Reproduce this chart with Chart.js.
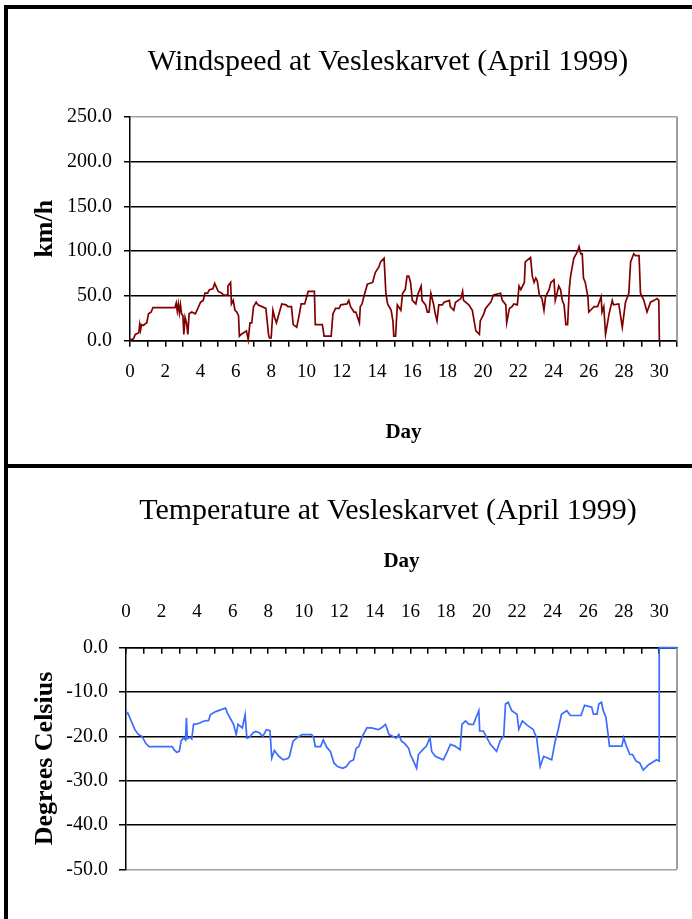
<!DOCTYPE html>
<html>
<head>
<meta charset="utf-8">
<script src="https://cdn.jsdelivr.net/npm/chart.js@4.4.0/dist/chart.umd.min.js"></script>
<style>
body { margin: 0; background: #fff; }
#hoja { position: relative; width: 692px; height: 919px; overflow: hidden; background: #fff; }
canvas { position: absolute; left: 0; }
.linea { position: absolute; background: #000; }
</style>
</head>
<body>
<div id="hoja">
  <canvas id="graficaViento" width="692" height="465" style="top:0"></canvas>
  <canvas id="graficaTemperatura" width="692" height="451" style="top:468px"></canvas>
  <div class="linea" style="left:4px;top:5px;width:4px;height:914px"></div>
  <div class="linea" style="left:4px;top:5px;width:688px;height:4px"></div>
  <div class="linea" style="left:4px;top:464px;width:688px;height:4px"></div>
</div>
<script>
// ---- datos ----
const tituloViento = 'Windspeed at Vesleskarvet (April 1999)';
const tituloTemperatura = 'Temperature at Vesleskarvet (April 1999)';

const diasViento = [0, 0.2, 0.3, 0.5, 0.55, 0.6, 0.65, 0.75, 0.95, 1.05, 1.2, 1.3, 2.55, 2.62, 2.68, 2.74, 2.8, 2.86, 2.92,
  3.0, 3.05, 3.12, 3.2, 3.28, 3.35, 3.5, 3.7, 3.8, 4.0, 4.15, 4.25, 4.4, 4.5, 4.7, 4.8, 5.0, 5.2, 5.3, 5.5, 5.55, 5.7, 5.75,
  5.85, 5.95, 6.05, 6.15, 6.2, 6.3, 6.6, 6.7, 6.8, 6.9, 7.0, 7.15, 7.25, 7.7, 7.85, 7.9, 8.0, 8.1, 8.2, 8.3, 8.5, 8.6, 8.85,
  8.95, 9.15, 9.25, 9.45, 9.6, 9.7, 9.9, 10.1, 10.45, 10.5, 10.9, 11.0, 11.4, 11.5, 11.55, 11.65, 11.85, 11.95, 12.3, 12.4,
  12.5, 12.7, 12.8, 13.0, 13.05, 13.15, 13.25, 13.45, 13.75, 13.9, 14.1, 14.2, 14.4, 14.5, 14.6, 14.8, 14.9, 14.95, 15.05,
  15.15, 15.35, 15.45, 15.6, 15.7, 15.8, 15.9, 16.0, 16.2, 16.3, 16.5, 16.55, 16.75, 16.85, 16.95, 17.05, 17.2, 17.3, 17.4,
  17.5, 17.7, 17.8, 18.1, 18.15, 18.35, 18.45, 18.75, 18.85, 18.9, 19.2, 19.4, 19.6, 19.8, 19.85, 20.05, 20.15, 20.45, 20.6,
  21.0, 21.1, 21.3, 21.35, 21.5, 21.65, 21.75, 21.95, 22.05, 22.15, 22.35, 22.4, 22.7, 22.8, 22.9, 23.0, 23.08, 23.2, 23.35,
  23.46, 23.55, 23.75, 23.85, 24.03, 24.1, 24.3, 24.4, 24.5, 24.6, 24.7, 24.8, 24.9, 24.97, 25.15, 25.35, 25.45, 25.55, 25.63,
  25.7, 25.8, 25.95, 26.0, 26.1, 26.3, 26.5, 26.7, 26.75, 26.85, 26.95, 27.15, 27.33, 27.4, 27.7, 27.9, 28.08, 28.27, 28.37,
  28.55, 28.65, 28.85, 28.93, 29.12, 29.3, 29.5, 29.7, 29.87, 29.97, 30.0];
const velocidadViento = [1, 2, 7, 9, 18, 12, 18, 17, 20, 30, 32, 37, 37, 42, 33, 41, 31, 40, 30,
  28, 7, 26, 20, 7, 30, 32, 30, 34, 43, 45, 53, 53, 57, 58, 64, 55, 53, 51, 51, 61, 65, 41,
  45, 34, 32, 28, 5, 7, 11, 1, 20, 20, 38, 43, 40, 36, 7, 3, 3, 34, 26, 20, 34, 41, 40,
  38, 38, 18, 15, 30, 41, 41, 55, 55, 18, 18, 5, 5, 30, 32, 36, 36, 40, 41, 45,
  38, 32, 32, 20, 38, 41, 49, 63, 65, 76, 82, 88, 92, 53, 41, 34, 22, 5, 5,
  40, 34, 53, 57, 72, 72, 65, 45, 41, 51, 61, 45, 40, 32, 32, 53, 41, 30, 22,
  40, 40, 43, 45, 38, 34, 43, 47, 55, 45, 40, 34, 11, 7, 22, 30, 36, 43, 51,
  53, 45, 40, 20, 36, 38, 41, 40, 61, 57, 65, 88, 93, 72, 65, 70, 67, 51, 47,
  34, 49, 57, 65, 68, 45, 61, 57, 45, 40, 18, 18, 59, 72, 92, 99, 105, 97, 97,
  70, 65, 49, 32, 34, 38, 38, 49, 32, 38, 7, 30, 45, 40, 41, 15, 43, 53, 88,
  97, 95, 95, 53, 45, 32, 43, 45, 47, 45, 0];

const diasTemperatura = [0, 0.1, 0.3, 0.5, 0.7, 0.9, 1.1, 1.3, 2.6, 2.7, 2.85, 3.0, 3.1, 3.25, 3.35, 3.4, 3.45, 3.6, 3.7, 3.8,
  4.0, 4.15, 4.35, 4.65, 4.75, 5.0, 5.2, 5.6, 5.7, 5.85, 6.05, 6.2, 6.3, 6.55, 6.7, 6.8, 6.95, 7.15, 7.3, 7.5, 7.7, 7.9, 8.1,
  8.2, 8.35, 8.6, 8.85, 9.1, 9.2, 9.4, 9.6, 9.9, 10.45, 10.55, 10.65, 10.95, 11.1, 11.3, 11.5, 11.7, 11.9, 12.2, 12.4, 12.6,
  12.8, 12.95, 13.1, 13.3, 13.55, 13.8, 14.2, 14.4, 14.6, 14.8, 15.0, 15.2, 15.35, 15.5, 15.65, 15.8, 15.9, 16.0, 16.2, 16.35,
  16.45, 16.7, 16.9, 17.1, 17.2, 17.4, 17.85, 18.05, 18.25, 18.5, 18.8, 18.9, 19.1, 19.3, 19.55, 19.7, 19.85, 19.9, 20.1,
  20.3, 20.5, 20.85, 21.05, 21.25, 21.35, 21.5, 21.7, 22.0, 22.1, 22.3, 22.6, 22.9, 23.1, 23.3, 23.5, 23.95, 24.15, 24.3,
  24.5, 24.8, 25.0, 25.6, 25.8, 26.2, 26.3, 26.5, 26.6, 26.75, 26.85, 27.0, 27.1, 27.2, 27.9, 28.0, 28.15, 28.35, 28.5, 28.7,
  28.9, 29.1, 29.4, 29.85, 29.99, 30.0, 31.0];
const gradosTemperatura = [-15.1, -14.7, -16.6, -18.5, -19.6, -20.0, -21.5, -22.3, -22.3, -23.0, -23.6, -23.4, -21.0, -20.3, -20.8, -15.8, -20.5, -20.2, -20.6, -17.3,
  -17.2, -17.0, -16.6, -16.4, -15.1, -14.5, -14.2, -13.6, -14.7, -15.8, -17.3, -19.6, -17.3, -18.1, -15.1, -20.4, -20.2, -19.2, -18.9, -19.2, -20.0, -18.5, -18.7,
  -24.9, -23.2, -24.5, -25.3, -25.0, -24.5, -21.1, -20.4, -19.6, -19.6, -20.2, -22.3, -22.3, -20.8, -22.5, -23.4, -26.0, -26.8, -27.2, -26.8, -25.7,
  -25.3, -22.7, -22.3, -20.0, -18.1, -18.1, -18.5, -18.0, -17.3, -19.6, -20.0, -20.4, -19.6, -21.1, -21.5, -22.2, -22.7, -24.1, -25.8, -27.2,
  -24.1, -23.0, -22.2, -20.3, -23.4, -24.5, -25.3, -23.7, -21.8, -22.2, -23.0, -17.3, -16.5, -17.3, -17.3, -15.7, -14.2, -18.8, -18.8,
  -20.3, -21.8, -23.4, -21.0, -19.9, -12.7, -12.3, -14.2, -15.0, -18.4, -16.5, -17.6, -18.4, -20.3, -26.8, -24.5, -25.3, -21.0, -18.8,
  -15.0, -14.2, -15.3, -15.3, -13.0, -13.4, -15.0, -15.0, -12.7, -12.3, -14.2, -15.7, -18.8, -22.2, -22.2, -20.3, -22.2, -24.1, -24.1, -25.6,
  -26.0, -27.6, -26.4, -25.3, -25.6, 0, 0];

const fuente = 'Liberation Serif';

// borde gris a la derecha del area de datos
const marcoGris = {
  id: 'marcoGris',
  beforeDatasetsDraw(chart) {
    const { ctx, chartArea } = chart;
    ctx.save();
    ctx.strokeStyle = '#a0a0a0';
    ctx.lineWidth = 2;
    ctx.beginPath();
    ctx.moveTo(chartArea.right, chartArea.top);
    ctx.lineTo(chartArea.right, chartArea.bottom);
    ctx.stroke();
    ctx.restore();
  }
};

// el eje y ocupa desde el borde izquierdo (para que no se recorten sus etiquetas)
const ejeDesdeBorde = {
  id: 'ejeDesdeBorde',
  afterLayout(chart) {
    chart.scales.y.left = 0;
  }
};

function puntos(dias, valores) {
  return dias.map((d, i) => ({ x: d, y: valores[i] }));
}

function etiquetaDia(valor) {
  return valor % 2 === 0 && valor <= 30 ? String(valor) : '';
}

// alto fijo del eje x, sin relleno lateral por las etiquetas
function fijarAlto(alto) {
  return (scale) => {
    scale.height = alto;
    scale.paddingLeft = 0;
    scale.paddingRight = 0;
  };
}

function graficaViento() {
  const ctx = document.getElementById('graficaViento').getContext('2d');
  new Chart(ctx, {
    type: 'line',
    data: {
      datasets: [{
        data: puntos(diasViento, velocidadViento),
        borderColor: '#800000',
        borderWidth: 1.7,
        pointRadius: 0,
        tension: 0,
        clip: 4
      }]
    },
    plugins: [marcoGris, ejeDesdeBorde],
    options: {
      responsive: false,
      animation: false,
      devicePixelRatio: 1,
      layout: { padding: { left: 99, right: 15, top: 0, bottom: 0 } },
      plugins: {
        legend: { display: false },
        tooltip: { enabled: false },
        title: {
          display: true,
          text: tituloViento,
          color: '#000',
          font: { family: fuente, size: 30, weight: 'normal' },
          padding: { top: 44, bottom: 36.7 }
        }
      },
      scales: {
        x: {
          type: 'linear',
          min: 0,
          max: 31,
          afterFit: fijarAlto(124.3),
          ticks: {
            stepSize: 1,
            autoSkip: false,
            maxRotation: 0,
            padding: 14,
            color: '#000',
            font: { family: fuente, size: 19 },
            callback: etiquetaDia
          },
          grid: { color: 'rgba(0,0,0,0)', tickColor: '#000', tickLength: 6, lineWidth: 1.5 },
          border: { color: '#000', width: 1.5 },
          title: {
            display: true,
            text: 'Day',
            color: '#000',
            font: { family: fuente, size: 21, weight: 'bold' },
            padding: { top: 0, bottom: 20 }
          }
        },
        y: {
          min: 0,
          max: 250,
          afterFit: (scale) => { scale.width = 31; },
          ticks: {
            stepSize: 50,
            padding: 12,
            color: '#000',
            font: { family: fuente, size: 20 },
            callback: (v) => v.toFixed(1)
          },
          grid: {
            color: (c) => c.tick && c.tick.value === 250 ? '#a0a0a0' : '#000',
            tickColor: '#000',
            tickLength: 6,
            lineWidth: 1.5
          },
          border: { color: '#000', width: 1.5 },
          title: {
            display: true,
            text: 'km/h',
            color: '#000',
            font: { family: fuente, size: 26, weight: 'bold' },
            padding: { top: 29.4, bottom: 0 }
          }
        }
      }
    }
  });
}

function graficaTemperatura() {
  const ctx = document.getElementById('graficaTemperatura').getContext('2d');
  new Chart(ctx, {
    type: 'line',
    data: {
      datasets: [{
        data: puntos(diasTemperatura, gradosTemperatura),
        borderColor: '#3b6cff',
        borderWidth: 1.7,
        pointRadius: 0,
        tension: 0,
        clip: 4
      }]
    },
    plugins: [marcoGris, ejeDesdeBorde],
    options: {
      responsive: false,
      animation: false,
      devicePixelRatio: 1,
      layout: { padding: { left: 99, right: 15, top: 0, bottom: 49.7 } },
      plugins: {
        legend: { display: false },
        tooltip: { enabled: false },
        title: {
          display: true,
          text: tituloTemperatura,
          color: '#000',
          font: { family: fuente, size: 30, weight: 'normal' },
          padding: { top: 25, bottom: 8 }
        }
      },
      scales: {
        x: {
          type: 'linear',
          position: 'top',
          min: 0,
          max: 31,
          afterFit: fijarAlto(110.7),
          ticks: {
            stepSize: 1,
            autoSkip: false,
            maxRotation: 0,
            padding: 30,
            color: '#000',
            font: { family: fuente, size: 19 },
            callback: etiquetaDia
          },
          // ticks hacia adentro
          grid: { color: 'rgba(0,0,0,0)', tickColor: '#000', tickLength: -6, lineWidth: 1.5 },
          border: { color: '#000', width: 1.5 },
          title: {
            display: true,
            text: 'Day',
            color: '#000',
            font: { family: fuente, size: 21, weight: 'bold' },
            padding: { top: 12, bottom: 0 }
          }
        },
        y: {
          min: -50,
          max: 0,
          afterFit: (scale) => { scale.width = 27; },
          ticks: {
            stepSize: 10,
            padding: 11,
            color: '#000',
            font: { family: fuente, size: 20 },
            callback: (v) => v.toFixed(1)
          },
          grid: {
            color: (c) => c.tick && c.tick.value === -50 ? '#a0a0a0' : '#000',
            tickColor: '#000',
            tickLength: 7,
            lineWidth: 1.5
          },
          border: { color: '#000', width: 1.5 },
          title: {
            display: true,
            text: 'Degrees Celsius',
            color: '#000',
            font: { family: fuente, size: 26, weight: 'bold' },
            padding: { top: 29.4, bottom: 0 }
          }
        }
      }
    }
  });
}

graficaViento();
graficaTemperatura();
</script>
</body>
</html>
